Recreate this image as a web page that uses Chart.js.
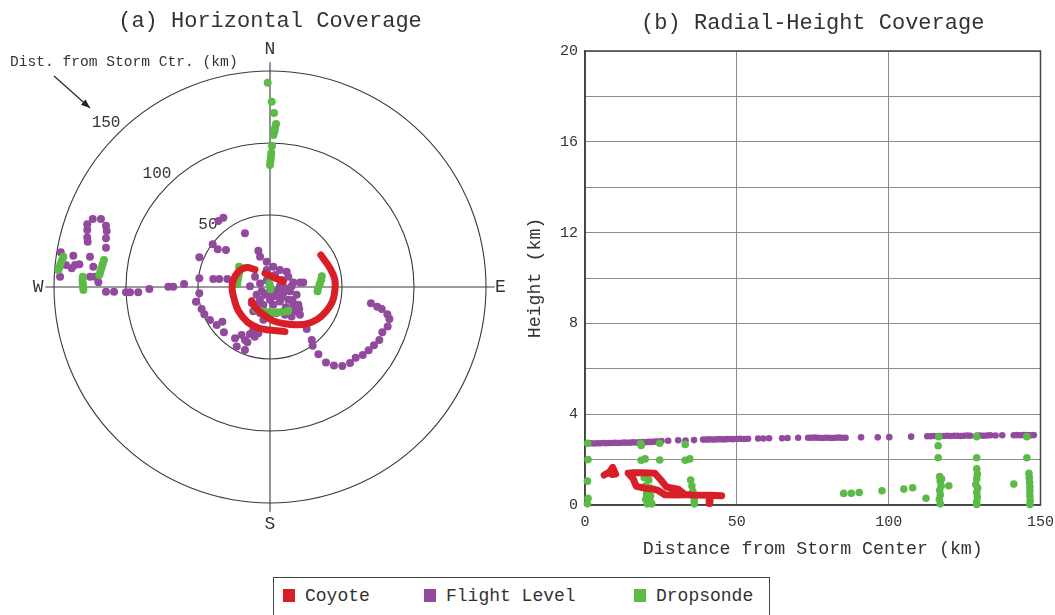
<!DOCTYPE html>
<html>
<head>
<meta charset="utf-8">
<script src="https://cdn.jsdelivr.net/npm/chart.js@4.4.1/dist/chart.umd.min.js"></script>
<style>
  html, body { margin: 0; padding: 0; background: #fff; }
  body { width: 1055px; height: 615px; overflow: hidden; position: relative;
         font-family: 'Liberation Mono', 'DejaVu Sans Mono', monospace; }
  canvas { position: absolute; top: 0; }
  #chart-a { left: 0; }
  #chart-b { left: 520px; }
  #legend { position: absolute; left: 273px; top: 577px; width: 497px; height: 60px;
            border: 1.5px solid #444; box-sizing: border-box; }
  .key { position: absolute; top: 7px; font-size: 18px; line-height: 22px; color: #333; white-space: pre; }
  .key i { display: inline-block; width: 12px; height: 13px; margin-right: 10px; vertical-align: -1px; }
</style>
</head>
<body>
<canvas id="chart-a" width="540" height="570"></canvas>
<canvas id="chart-b" width="542" height="570"></canvas>
<div id="legend"></div>
<script>
// ── 系列 ─────────────────────────────────────────────────────────────────────
const seriesNames  = ['Coyote', 'Flight Level', 'Dropsonde'];
const seriesColors = ['#d81f28', '#924b9c', '#5cba47'];

// ── (a) 水平位置：[東 km, 北 km]，以風暴中心為原點 ──────────────────────────
const coyoteInnerA  = [[-3.5, 9.5], [3, 6.5], [9.3, 3.7]];
const coyoteOuterA  = [[-10.4, 12], [-16.2, 13.5], [-22, 10.6], [-25.7, 4], [-26.3, -1.5], [-25, -7.9],
                       [-22, -16.5], [-15.5, -24.5], [-8, -28.5], [0, -29.9], [10.4, -31]];
const coyoteSpiralA = [[-12.7, -9.5], [-10.4, -14], [-4.6, -19], [2.3, -23.5], [10.4, -25.5], [18, -26.2],
                       [25.5, -25.6], [32.8, -22.5], [38.9, -17], [43.3, -10.2], [45.1, -2], [45, 5.3],
                       [41.7, 13], [35.3, 22.2]];

const flightLevelA = [
  // 西側航段
  [-123.1, 47.2], [-117.4, 47.2], [-126.9, 43.5], [-113.9, 42.6], [-126.9, 39.6], [-113.4, 38.9],
  [-126.9, 34.3], [-113.9, 33.8], [-126.6, 31.5], [-113.9, 27.3], [-145.3, 24.1], [-136.6, 21.7],
  [-125, 21], [-141.7, 15.3], [-137.7, 13], [-135.4, 15.3], [-132.4, 15.8], [-122.7, 14.1],
  [-145.8, 7.2], [-125, 7.2], [-121.5, 7.2], [-119.2, 3.3],
  [-113.9, -3.3], [-108.3, -3.3], [-100, -3.7], [-97.2, -3.7], [-91.5, -3.7], [-83.8, -1.4],
  [-70.6, 0.2], [-67.2, 0.2], [-59.7, 2.1],
  // 中心西側
  [-32.4, 48.1], [-35.9, 45.8], [-39.8, 29.7], [-36.3, 26.2], [-30.6, 25.7], [-49.1, 20.6], [-17.4, 37.3],
  [-49.1, 6], [-39.4, 5.5], [-35.2, 5.5], [-29.6, 5.5], [-49.1, -4.4], [-51.4, -10.2], [-47.5, -15.3],
  [-45.6, -19], [-41.7, -22.9], [-37, -26.4], [-33.1, -24.1], [-32, -31.5], [-24.3, -35.6], [-23.1, -41.4],
  [-17.4, -36.8], [-13.9, -32.6], [-15.7, -38.4], [-11.6, -29.9], [-8.1, -32.2], [-10.6, -34.5],
  [-19.7, -33.3], [-17.4, -43.8],
  // 中心
  [-8.1, 25.2], [-6.9, 21], [-2.3, 17.6], [-2.3, 11.8], [2.3, 14.1], [6.9, 11.8], [11.6, 10.6],
  [3.5, 8.3], [8.1, 4.9], [12.7, 7.2], [16.2, 3.2], [20.8, 3.2], [23.1, 3.2], [-6.9, 2.5], [-5.8, -3],
  [-9.3, -5.3], [-3.5, -5.3], [4.6, -3], [9.3, -4.2], [13.9, -3], [18.5, -5.3], [12.7, -8.8],
  [6.9, -10], [2.3, -12.3], [16.2, -12.3], [19.7, -12.3], [17.4, -16.9], [20.8, -19.2], [15, -20.4],
  [10.4, -19.2], [4.6, -18.1], [0, -21.5], [-4.6, -22.7], [-6.9, -18.1], [-11.6, -16.9], [-9.3, -12.3],
  [-12.7, -11.1], [-4.6, -12.5], [0, -8.8], [-2.3, 4.6], [-10.4, 7.2], [-13.9, 0.5], [6.9, 0.5],
  [10.4, -0.7], [15, 0.5], [-1, -4], [3, -6.5], [8, -7], [-7, -9], [11, -14],
  // 東南弧
  [15.7, -9], [20.3, -15.3], [25.5, -29.2], [29, -36.8], [29.6, -40.8], [33.6, -46.7], [38.9, -52.5],
  [44.4, -54.6], [50.2, -54.9], [55.6, -52.8], [59.5, -49.1], [64.4, -47.2], [68.5, -44], [72.2, -40.5],
  [75.9, -36.8], [78, -31.5], [81.7, -27.5], [82.9, -22.2], [81.5, -19], [77.6, -15.3], [74.5, -13.7],
  [70.1, -11.3]
];

const dropsondeA = [
  // 北
  [-1.6, 141.9], [1.2, 128.7], [2.8, 120.8], [4.2, 113.2], [3.5, 110.5], [3.1, 108], [2.4, 105.6],
  [1.4, 98], [0.9, 93], [0.6, 90.3], [0.3, 87.5], [0, 84.7],
  // 西
  [-143.5, 21], [-144.5, 18.5], [-145.5, 16], [-146.3, 13.5], [-147, 11.8],
  [-130, 7.2], [-130.2, 4.8], [-130, 2.4], [-129.8, 0], [-129.6, -2.1],
  [-115.3, 18.8], [-116.2, 16], [-117, 13.3], [-117.8, 10.6], [-118.5, 8.3],
  // 中心附近
  [-21.5, 14], [-21.2, 11], [-21.8, 8], [-22.3, 5], [-22.7, 2],
  [-0.4, 2.8], [0, 0.5], [0.2, -1.5],
  [36, 7.5], [35.5, 4.8], [34.5, 2], [33.3, -1], [33, -3],
  [-10, -15.5], [-7, -16.5], [-4, -17.2], [-1, -17.6], [2, -17.8], [5, -17.6], [8, -17.3], [11, -17], [12.5, -16.5]
];

// ── (b) [距中心 km, 高度 km] ───────────────────────────────────────────────
const coyoteB1 = [[6.3, 1.32], [8.1, 1.45], [9.1, 1.66], [9.6, 1.5], [10.1, 1.36], [8.9, 1.34], [8.2, 1.45]];
const coyoteB2 = [[45, 0.41], [41.3, 0.43], [41.1, 0.07], [40.9, 0.43], [35, 0.44], [32.9, 0.46],
                  [30.7, 0.7], [28, 0.76], [26.8, 0.8], [25, 1.1], [23, 1.4], [19, 1.42], [16, 1.42],
                  [14.2, 1.4], [15.8, 1.17], [16.9, 0.82], [19.7, 0.74], [22.5, 0.7], [24.1, 0.64],
                  [26.3, 0.45], [30, 0.44], [33, 0.45]];

const flightLevelB = [
  [1, 2.71], [2, 2.72], [3, 2.71], [4, 2.72], [5, 2.72], [6, 2.73], [7, 2.72], [8, 2.73], [9, 2.73],
  [10, 2.74], [11, 2.73], [12, 2.74], [13, 2.75], [14, 2.74], [15, 2.75], [16, 2.76], [17, 2.75],
  [18, 2.76], [19, 2.77], [20, 2.77], [21, 2.78], [22, 2.78], [23, 2.79], [24, 2.8], [25.2, 2.82],
  [27.4, 2.83], [30.7, 2.85], [33.1, 2.84], [35.9, 2.86], [38.9, 2.88], [40, 2.88], [41, 2.89],
  [42.2, 2.88], [43.3, 2.89], [44.4, 2.9], [45.5, 2.89], [46.6, 2.9], [47.7, 2.91], [48.8, 2.9],
  [50, 2.91], [51.1, 2.92], [52.4, 2.91], [53.7, 2.92], [57, 2.93], [58.7, 2.93], [60.6, 2.94],
  [64.9, 2.94], [66.7, 2.95], [70.2, 2.96], [73.5, 2.96], [74.6, 2.96], [75.7, 2.97], [76.8, 2.96],
  [78, 2.95], [79.1, 2.96], [80.2, 2.96], [81.3, 2.95], [82.4, 2.96], [83.5, 2.97], [84.6, 2.96],
  [85.8, 2.96], [90.9, 2.98], [96.4, 2.98], [100.2, 2.99], [107.4, 3.01], [112.7, 3.03], [113.8, 3.03],
  [114.9, 3.04], [116, 3.03], [117.1, 3.04], [118.2, 3.04], [119.3, 3.05], [120.4, 3.04], [121.5, 3.05],
  [122.6, 3.05], [123.7, 3.04], [124.8, 3.05], [125.9, 3.06], [126.9, 3.05], [129.1, 3.06], [130.2, 3.06],
  [131.3, 3.05], [132.4, 3.06], [133.5, 3.07], [135.2, 3.06], [137.4, 3.07], [141.2, 3.07], [142.3, 3.08],
  [143.4, 3.07], [144.5, 3.08], [145.6, 3.08], [146.7, 3.07], [147.8, 3.08]
];

const dropsondeB = [
  [0.9, 2.72], [1, 2.0], [0.8, 1.05], [1, 0.3], [0.8, 0.05],
  [18.3, 2.72], [18.5, 2.62], [18.5, 1.97], [19.8, 2.03],
  [19.5, 1.2], [21, 1.1], [20, 0.85], [21.5, 0.75], [20.3, 0.5], [21.6, 0.4], [20, 0.25], [21.5, 0.15],
  [20.5, 0.05], [22, 0.05],
  [24.6, 2.72], [24.6, 1.98],
  [33, 2.67], [33, 1.97], [34.5, 2.03],
  [34.8, 1.1], [35.2, 0.85], [35.5, 0.6], [35.8, 0.4], [36, 0.2], [36, 0.05],
  [85.2, 0.51], [87.7, 0.52], [90.3, 0.55], [97.8, 0.63], [105, 0.7], [107.9, 0.76], [112.3, 0.3],
  [116.5, 3.01], [116.3, 2.61], [116.3, 2.08], [116.8, 1.25], [117, 1.05], [117.3, 0.85], [119.8, 0.85],
  [116.8, 0.65], [117, 0.45], [116.7, 0.25], [117, 0.05], [117.4, 1.15],
  [129, 3.01], [129, 2.08], [129, 1.6], [129.2, 1.35], [129, 1.15], [128.7, 0.9], [129.3, 0.75],
  [129, 0.55], [129.2, 0.35], [129, 0.15], [129, 0.02],
  [141.2, 0.92],
  [145.5, 3.01], [145.5, 2.08], [146.2, 1.4], [146.3, 1.2], [146.4, 1.0], [146.5, 0.8], [146.5, 0.6],
  [146.5, 0.4], [146.6, 0.2], [146.5, 0.02]
];

// ── 刻度 / 標示 ──────────────────────────────────────────────────────────────
const ringRadii   = [50, 100, 150];
const compass     = [['N', 0, 165], ['E', 160, 0], ['S', 0, -165], ['W', -161, 0]];
const xTickLabels = [0, 50, 100, 150];
const yTickLabels = [0, 4, 8, 12, 16, 20];

const FONT = "'Liberation Mono', 'DejaVu Sans Mono', monospace";
Chart.defaults.font.family = FONT;
Chart.defaults.color = '#333';

const pts = arr => arr.map(([x, y]) => ({ x, y }));

const track = (data, tension) => ({
  label: seriesNames[0], data: pts(data), showLine: true,
  borderColor: seriesColors[0], backgroundColor: seriesColors[0], borderWidth: 7,
  borderCapStyle: 'round', borderJoinStyle: 'round', pointRadius: 0, pointHoverRadius: 0,
  tension, order: 0, clip: false
});
const dots = (i, data, r) => ({
  label: seriesNames[i], data: pts(data), backgroundColor: seriesColors[i], borderColor: seriesColors[i],
  pointRadius: r, pointHoverRadius: r, pointBorderWidth: 0, order: i === 2 ? 1 : 2, clip: false
});

// ── (a) 同心圓、十字線與文字 ─────────────────────────────────────────────────
const polarFrame = {
  id: 'polarFrame',
  beforeDatasetsDraw(chart) {
    const { ctx, scales: { x, y } } = chart;
    const px = v => x.getPixelForValue(v), py = v => y.getPixelForValue(v);
    const cx = px(0), cy = py(0), k = px(1) - cx;
    ctx.save();
    ctx.strokeStyle = '#3a3a3a';
    ctx.lineWidth = 1.1;
    ringRadii.forEach(r => { ctx.beginPath(); ctx.arc(cx, cy, r * k, 0, Math.PI * 2); ctx.stroke(); });
    ctx.beginPath();
    ctx.moveTo(px(-156), cy); ctx.lineTo(px(156), cy);
    ctx.moveTo(cx, py(156)); ctx.lineTo(cx, py(-156));
    ctx.stroke();

    ctx.fillStyle = '#333';
    ctx.textAlign = 'center';
    ctx.textBaseline = 'middle';
    ctx.font = `16px ${FONT}`;
    ringRadii.forEach(r => {
      const d = (r + 11) * Math.SQRT1_2;
      ctx.fillText(String(r), px(-d), py(d));
    });
    ctx.font = `18px ${FONT}`;
    compass.forEach(([t, e, n]) => ctx.fillText(t, px(e), py(n)));

    // 距離說明與箭頭
    ctx.font = `14.6px ${FONT}`;
    ctx.textAlign = 'left';
    ctx.fillText('Dist. from Storm Ctr. (km)', px(-180.6), py(156.3));
    const x0 = px(-150), y0 = py(146.5), x1 = px(-125), y1 = py(124.3);
    const ang = Math.atan2(y1 - y0, x1 - x0);
    ctx.strokeStyle = '#222';
    ctx.lineWidth = 1.2;
    ctx.beginPath(); ctx.moveTo(x0, y0); ctx.lineTo(x1, y1); ctx.stroke();
    ctx.fillStyle = '#222';
    ctx.beginPath();
    ctx.moveTo(x1, y1);
    ctx.lineTo(x1 - 9 * Math.cos(ang) + 3.5 * Math.sin(ang), y1 - 9 * Math.sin(ang) - 3.5 * Math.cos(ang));
    ctx.lineTo(x1 - 9 * Math.cos(ang) - 3.5 * Math.sin(ang), y1 - 9 * Math.sin(ang) + 3.5 * Math.cos(ang));
    ctx.closePath(); ctx.fill();
    ctx.restore();
  }
};

// ── (b) 外框 ────────────────────────────────────────────────────────────────
const plotFrame = {
  id: 'plotFrame',
  beforeDatasetsDraw(chart) {
    const { ctx, chartArea: a } = chart;
    ctx.save();
    ctx.strokeStyle = '#444';
    ctx.lineWidth = 1.5;
    ctx.strokeRect(a.left, a.top, a.right - a.left, a.bottom - a.top);
    ctx.restore();
  }
};

const titleOpts = (text, top, bottom) => ({
  display: true, text, fullSize: false, color: '#333',
  font: { size: 22, weight: 'normal' }, padding: { top, bottom }
});

new Chart(document.getElementById('chart-a'), {
  type: 'scatter',
  data: {
    datasets: [
      track(coyoteInnerA, 0.4), track(coyoteOuterA, 0.4), track(coyoteSpiralA, 0.4),
      dots(2, dropsondeA, 4), dots(1, flightLevelA, 4)
    ]
  },
  options: {
    responsive: false, animation: false,
    layout: { padding: { left: 25.2, right: 25.2, top: 0, bottom: 38.2 } },
    scales: {
      x: { display: false, min: -170, max: 170 },
      y: { display: false, min: -170, max: 170 }
    },
    plugins: {
      legend: { display: false }, tooltip: { enabled: false },
      title: titleOpts('(a) Horizontal Coverage', 8, 7.8)
    }
  },
  plugins: [polarFrame]
});

new Chart(document.getElementById('chart-b'), {
  type: 'scatter',
  data: {
    datasets: [
      track(coyoteB1, 0), track(coyoteB2, 0),
      dots(2, dropsondeB, 3.8), dots(1, flightLevelB, 3.3)
    ]
  },
  options: {
    responsive: false, animation: false,
    layout: { padding: { left: 0, right: 15, top: 0, bottom: 0 } },
    scales: {
      x: {
        min: 0, max: 150,
        afterFit: s => { s.height = 65; },
        ticks: { stepSize: 50, padding: 8, maxRotation: 0, autoSkip: false, font: { size: 15 },
                 callback: v => xTickLabels.includes(v) ? v : '' },
        grid: { color: '#8c8c8c', lineWidth: 1, drawTicks: false },
        border: { color: '#444', width: 1.5 },
        title: { display: true, text: 'Distance from Storm Center (km)', font: { size: 18.3 },
                 padding: { top: 0, bottom: 10 } }
      },
      y: {
        min: 0, max: 20,
        afterFit: s => { s.width = 65; },
        ticks: { stepSize: 2, padding: 7, autoSkip: false, font: { size: 15 },
                 callback: v => yTickLabels.includes(v) ? v : '' },
        grid: { color: '#8c8c8c', lineWidth: 1, drawTicks: false },
        border: { color: '#444', width: 1.5 },
        title: { display: true, text: 'Height (km)', font: { size: 18.3 }, padding: { top: 4, bottom: 0 } }
      }
    },
    plugins: {
      legend: { display: false }, tooltip: { enabled: false },
      title: titleOpts('(b) Radial-Height Coverage', 10, 14.6)
    }
  },
  plugins: [plotFrame]
});

// ── 圖例 ────────────────────────────────────────────────────────────────────
const legendEl = document.getElementById('legend');
[9, 150, 360].forEach((left, i) => {
  const key = document.createElement('div');
  key.className = 'key';
  key.style.left = left + 'px';
  key.innerHTML = `<i style="background:${seriesColors[i]}"></i>${seriesNames[i]}`;
  legendEl.appendChild(key);
});
</script>
</body>
</html>
